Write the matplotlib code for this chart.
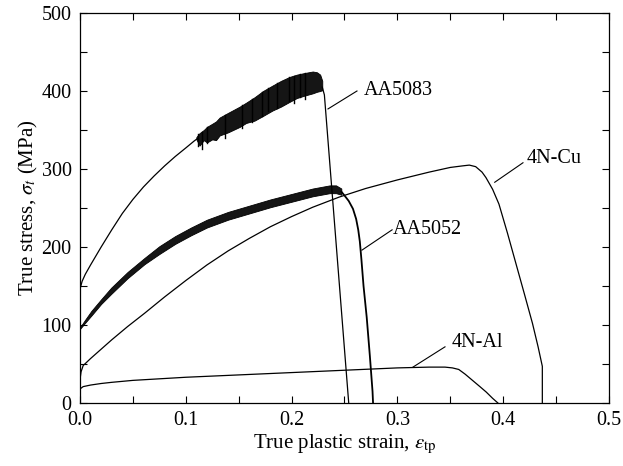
import matplotlib
matplotlib.use("Agg")
import matplotlib.pyplot as plt
from matplotlib.ticker import MultipleLocator
import numpy as np

plt.rcParams['font.family'] = ['Liberation Serif', 'DejaVu Serif']
plt.rcParams['mathtext.fontset'] = 'stix'

# 4N-Cu
cu_strain = [0.0, 0.001, 0.003, 0.01, 0.02, 0.03, 0.045, 0.061, 0.08, 0.1, 0.12,
             0.14, 0.16, 0.18, 0.2, 0.22, 0.245, 0.27, 0.3, 0.33, 0.35, 0.3616,
             0.368, 0.374, 0.38, 0.3837, 0.39, 0.396, 0.404, 0.412, 0.42, 0.4277,
             0.433, 0.437, 0.437]
cu_stress = [30, 40, 48, 57, 69, 81, 98, 115, 136, 157, 177,
             195, 211, 226, 239, 251, 264, 275, 286, 296, 302, 304,
             305, 303, 296, 289, 274, 255, 218, 179, 140, 102,
             72, 47, 0]

# 4N-Al
al_strain = [0.0, 0.003, 0.01, 0.02, 0.03, 0.05, 0.075, 0.1, 0.15, 0.2, 0.25,
             0.3, 0.33, 0.345, 0.352, 0.358, 0.364, 0.371, 0.378, 0.384, 0.39, 0.395]
al_stress = [18, 21, 23, 25, 26.5, 29, 31, 33, 36, 39, 42,
             45, 46, 46, 45, 43, 37, 29, 21, 14, 6, 0]

# AA5083: smooth hardening part, serrated band, then fracture drop
a83_strain = [0.0, 0.002, 0.005, 0.01, 0.02, 0.03, 0.04, 0.05, 0.06, 0.07,
              0.08, 0.09, 0.1, 0.108, 0.111]
a83_stress = [146, 156, 165, 177, 200, 222, 243, 261, 277, 291,
              304, 316, 327, 336, 339]
a83_band_strain = [0.11, 0.113, 0.117, 0.12, 0.125, 0.1286, 0.132, 0.14, 0.151,
                   0.157, 0.165, 0.173, 0.182, 0.19, 0.198, 0.205, 0.212, 0.22,
                   0.224, 0.227, 0.229]
a83_band_upper = [341, 346, 350, 354, 358, 361, 366, 372, 380, 385, 392, 400, 407,
                  413, 418, 421, 423, 425, 424, 421, 413]
a83_band_lower = [338, 330, 337, 334, 338, 337, 343, 347, 354, 359, 362, 368, 375,
                  380, 386, 391, 394, 397, 399, 400, 401]
a83_drop_strain = [0.229, 0.231, 0.254]
a83_drop_stress = [405, 395, 0]
# serration drops (strain, lowest stress)
a83_serr_strain = [0.112, 0.115, 0.12, 0.137, 0.153, 0.163, 0.172, 0.178, 0.186,
                   0.198, 0.202, 0.208, 0.213]
a83_serr_low = [330, 326, 333, 340, 352, 360, 368, 374, 378, 387, 385, 392, 390]

# AA5052: serrated band and fracture drop
a52_strain = [0.0, 0.005, 0.0107, 0.02, 0.0296, 0.045, 0.061, 0.075, 0.09, 0.105,
              0.12, 0.14, 0.16, 0.18, 0.2, 0.22, 0.236, 0.242, 0.247]
a52_upper = [97, 107, 118, 133, 148, 168, 186, 201, 214, 225,
             235, 245, 253, 261, 268, 275, 279, 279, 275]
a52_lower = [95, 103, 112, 127, 140, 160, 178, 191, 204, 215,
             225, 235, 243, 251, 258, 265, 269, 269, 267]
a52_drop_strain = [0.247, 0.25, 0.254, 0.258, 0.261, 0.263, 0.2645, 0.266, 0.268,
                   0.271, 0.274, 0.2765, 0.277]
a52_drop_stress = [271, 266, 259, 249, 236, 222, 207, 184, 150,
                   110, 60, 15, 0]

labels = ['AA5083', '4N-Cu', 'AA5052', '4N-Al']
leader_start = [(0.2344, 377), (0.392, 283), (0.2665, 196), (0.3147, 46)]
leader_end = [(0.2618, 400), (0.4187, 308), (0.295, 222), (0.345, 72)]
text_pos = [(0.2685, 401), (0.4225, 313), (0.2955, 222), (0.3515, 77)]

fig = plt.figure(figsize=(6.23, 4.66), dpi=100)
ax = fig.add_axes([0.1284, 0.1352, 0.8491, 0.8369])

lw = 0.9
k = 'black'
ax.plot(cu_strain, cu_stress, color=k, lw=lw)
ax.plot(al_strain, al_stress, color=k, lw=lw)

ax.plot(a83_strain, a83_stress, color=k, lw=lw)
ax.fill_between(a83_band_strain, a83_band_lower, a83_band_upper, color='#151515',
                lw=0.6, edgecolor=k)
for s, lo in zip(a83_serr_strain, a83_serr_low):
    hi = np.interp(s, a83_band_strain, a83_band_upper)
    ax.plot([s, s], [lo, hi], color=k, lw=1.0)
ax.plot(a83_drop_strain, a83_drop_stress, color=k, lw=lw)

ax.fill_between(a52_strain, a52_lower, a52_upper, color='#151515', lw=0.6, edgecolor=k)
ax.plot(a52_drop_strain, a52_drop_stress, color=k, lw=1.3)

for lab, p0, p1, tp in zip(labels, leader_start, leader_end, text_pos):
    ax.plot([p0[0], p1[0]], [p0[1], p1[1]], color=k, lw=0.8)
    ax.text(tp[0], tp[1], lab, fontsize=14.5, ha='left', va='center')

ax.set_xlim(0, 0.5)
ax.set_ylim(0, 500)
ax.set_xticks(np.arange(0, 0.51, 0.1))
ax.set_xticklabels([f'{v:.1f}' for v in np.arange(0, 0.51, 0.1)])
ax.xaxis.set_minor_locator(MultipleLocator(0.05))
ax.yaxis.set_major_locator(MultipleLocator(100))
ax.yaxis.set_minor_locator(MultipleLocator(50))
ax.tick_params(which='both', direction='in', top=True, right=True, length=5,
               width=0.8, labelsize=14.5, pad=6)
for sp in ax.spines.values():
    sp.set_linewidth(0.9)

ax.set_xlabel(r'True plastic strain, $\varepsilon_{\mathrm{tp}}$', fontsize=15, labelpad=2)
ax.set_ylabel(r'True stress, $\sigma_t$ (MPa)', fontsize=15, labelpad=1)

fig.savefig('out.png', dpi=100)
